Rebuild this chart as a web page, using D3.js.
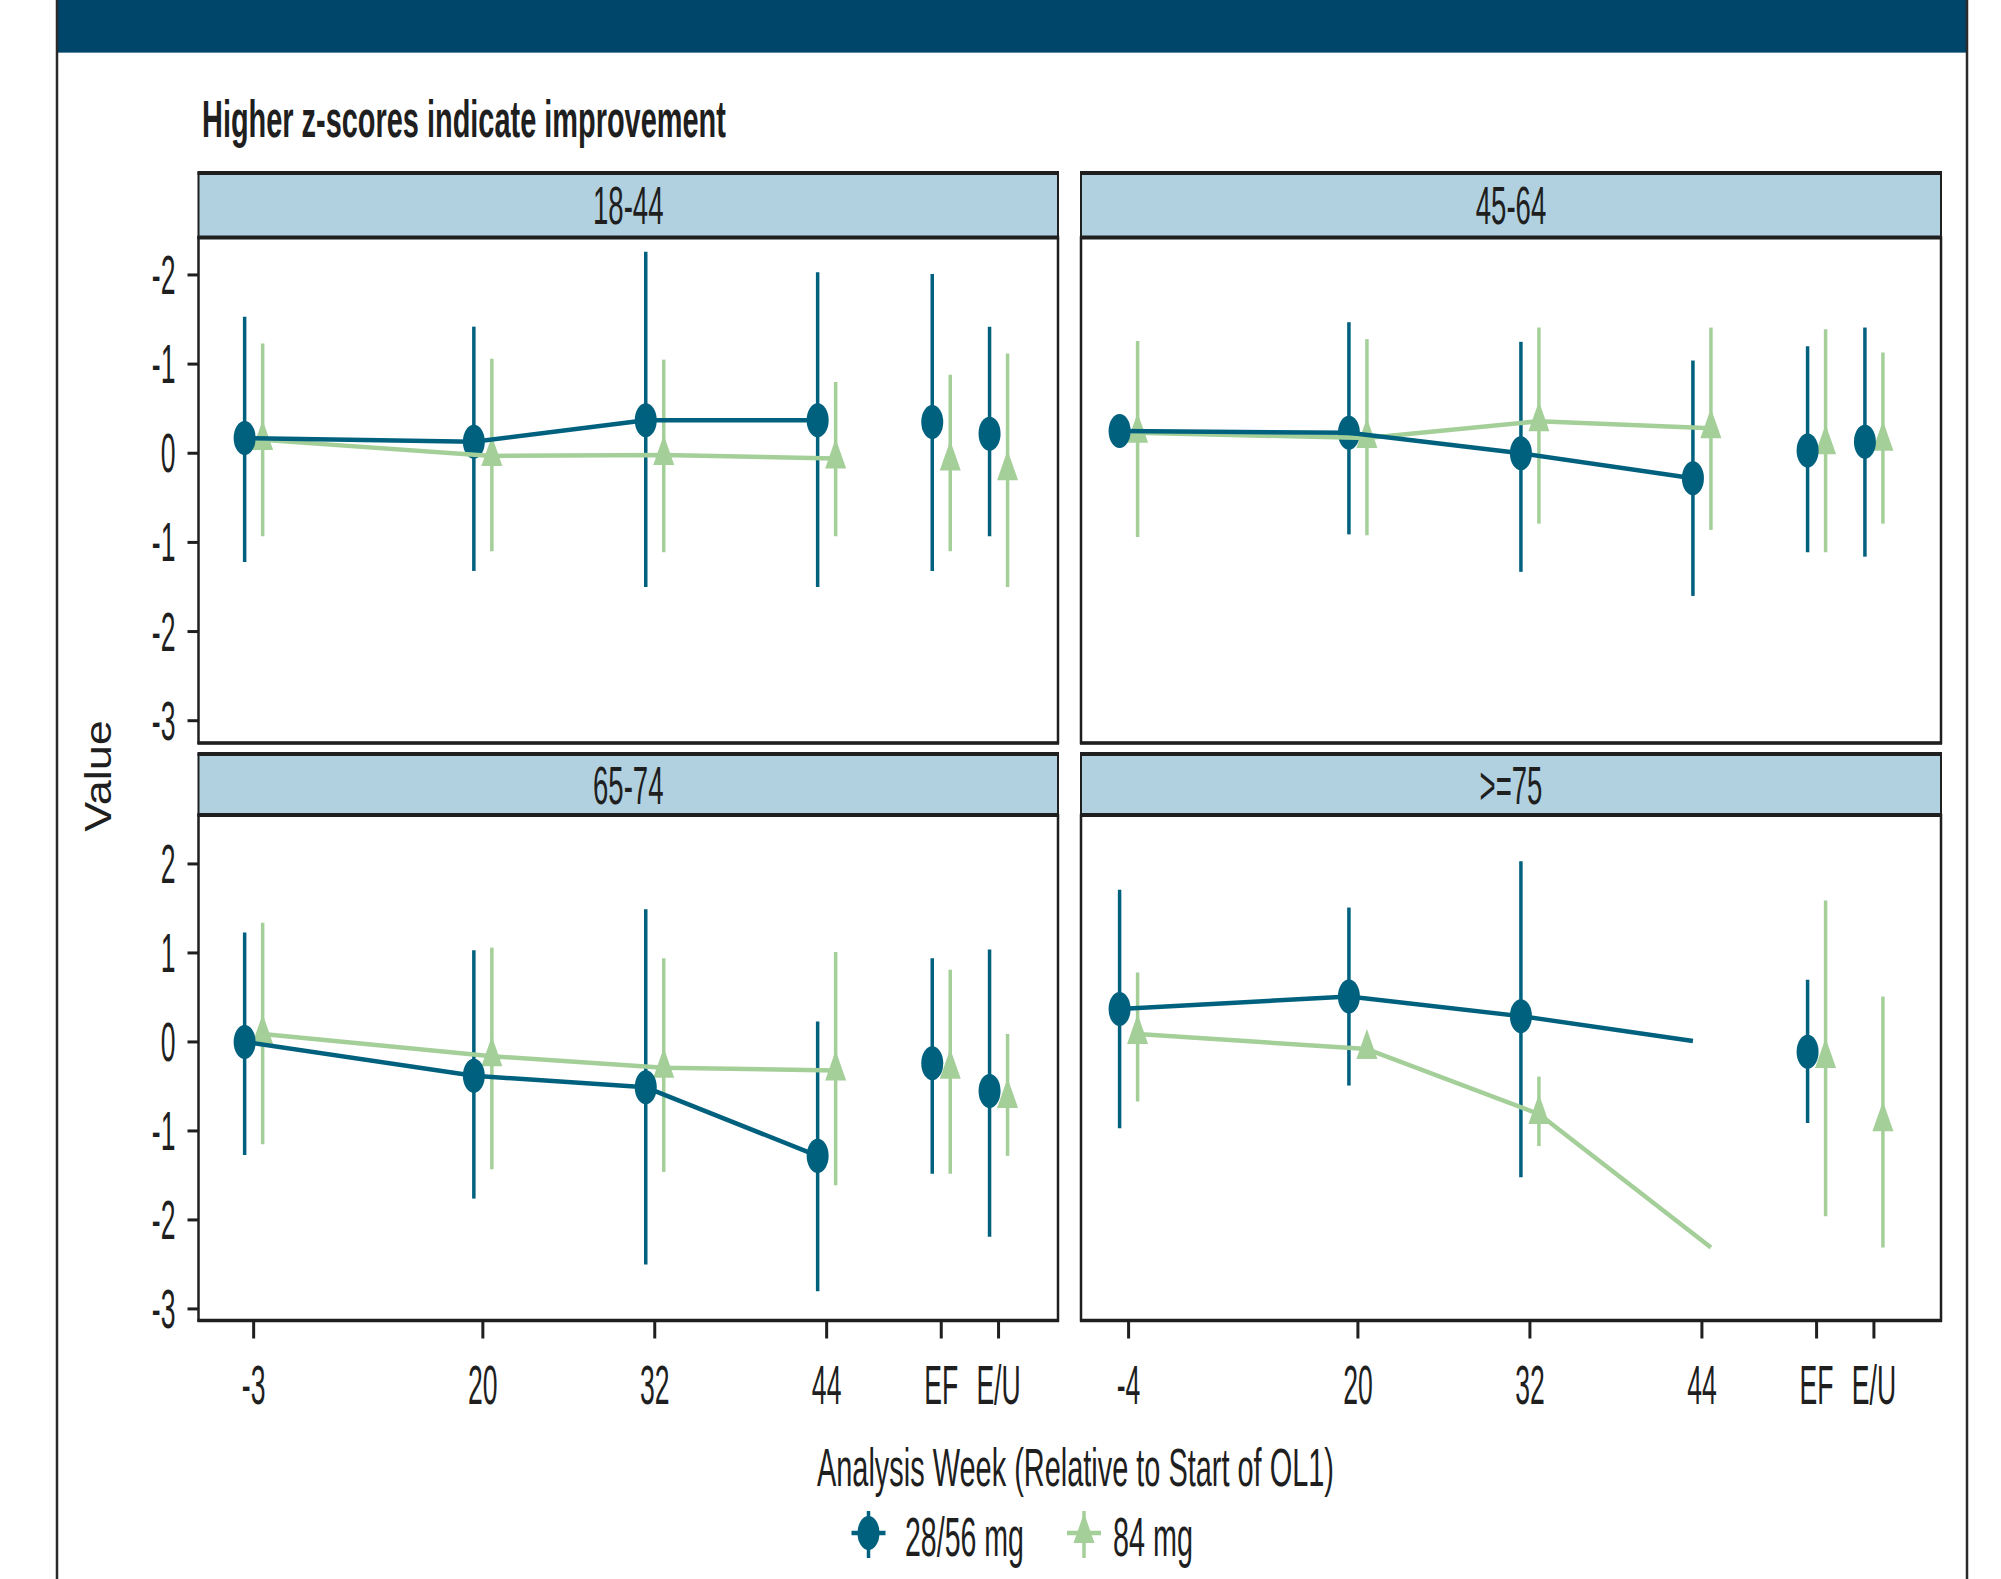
<!DOCTYPE html>
<html>
<head>
<meta charset="utf-8">
<script src="https://cdn.jsdelivr.net/npm/d3@7"></script>
<style>
  body { margin: 0; background: #fff; }
  svg { display: block; font-family: 'Liberation Sans', Arial, sans-serif; }
</style>
</head>
<body>
<svg id="chart" width="2001" height="1579"></svg>
<script>
// ---- data ----
const panelNames = ['18-44', '45-64', '65-74', '>=75'];
const weekLabelsLeft = ['-3', '20', '32', '44', 'EF', 'E/U'];
const weekLabelsRight = ['-4', '20', '32', '44', 'EF', 'E/U'];
const seriesNames = ['28/56 mg', '84 mg'];
const yTicks = [2, 1, 0, -1, -2, -3];
const yTickLabelsTop = ['-2', '-1', '0', '-1', '-2', '-3'];
const yTickLabelsBottom = ['2', '1', '0', '-1', '-2', '-3'];
// slot of each category along the week axis
const weekSlots = [4, 20, 32, 44, 52, 56];
// only the first four visits are joined by a line
const linedVisits = 4;

// 28/56 mg : estimate, lower and upper limit, one row per panel
const mid2856 = [
  [0.17, 0.13, 0.37, 0.37, 0.35, 0.22],
  [0.25, 0.23, 0.00, -0.28, 0.03, 0.13],
  [0.00, -0.38, -0.51, -1.28, -0.24, -0.55],
  [0.37, 0.51, 0.29, 0.01, -0.11, null]
];
const lo2856 = [
  [-1.22, -1.32, -1.50, -1.50, -1.32, -0.93],
  [null, -0.91, -1.33, -1.60, -1.11, -1.16],
  [-1.27, -1.76, -2.50, -2.80, -1.48, -2.19],
  [-0.97, -0.49, -1.52, null, -0.91, null]
];
const hi2856 = [
  [1.53, 1.42, 2.26, 2.03, 2.01, 1.42],
  [null, 1.47, 1.25, 1.04, 1.20, 1.41],
  [1.23, 1.03, 1.49, 0.23, 0.94, 1.04],
  [1.71, 1.51, 2.03, null, 0.70, null]
];
// 84 mg
const mid84 = [
  [0.15, -0.03, -0.02, -0.06, -0.08, -0.19],
  [0.23, 0.17, 0.36, 0.28, 0.10, 0.14],
  [0.09, -0.16, -0.29, -0.32, -0.30, -0.63],
  [0.09, -0.08, -0.81, -2.31, -0.18, -0.89]
];
const lo84 = [
  [-0.93, -1.10, -1.11, -0.93, -1.10, -1.50],
  [-0.94, -0.92, -0.79, -0.86, -1.11, -0.79],
  [-1.15, -1.43, -1.46, -1.61, -1.48, -1.28],
  [-0.67, null, -1.17, null, -1.96, -2.31]
];
const hi84 = [
  [1.23, 1.06, 1.05, 0.80, 0.88, 1.12],
  [1.26, 1.28, 1.41, 1.41, 1.39, 1.13],
  [1.34, 1.06, 0.94, 1.01, 0.81, 0.09],
  [0.78, null, -0.39, null, 1.59, 0.51]
];
// visits where the line reaches a value but no marker is drawn
const lineOnly2856 = [[], [], [], [3]];
const lineOnly84 = [[], [], [], [3]];

// ---- layout ----
const blue = '#00617f';
const green = '#a4cf99';
const stripFill = '#b1d1e0';
const headerFill = '#00456a';
const ink = '#1f1f1f';

const colX = [[198.5, 1058], [1081, 1941]];
const rowStrip = [[173, 237.5], [754, 815]];
const rowPlot = [[237.5, 743], [815, 1320.5]];
const xDomains = [[0.15, 60.15], [0.68, 60.68]];
const yDomains = [[-3.25, 2.42], [-3.13, 2.55]];
const dodge = 9;

const svg = d3.select('#chart');

const series = [
  { name: seriesNames[0], mid: mid2856, lo: lo2856, hi: hi2856, hidden: lineOnly2856, color: blue, shape: 'circle', dx: -dodge },
  { name: seriesNames[1], mid: mid84, lo: lo84, hi: hi84, hidden: lineOnly84, color: green, shape: 'triangle', dx: dodge }
];

//треугольник с центром в центроиде
const triPath = (w, h) => `M0,${-2 * h / 3}L${w / 2},${h / 3}L${-w / 2},${h / 3}Z`;

const drawMarker = (g, shape, color) => {
  if (shape === 'circle') {
    g.append('ellipse').attr('rx', 11).attr('ry', 17).attr('fill', color);
  } else {
    g.append('path').attr('d', triPath(21, 30)).attr('fill', color);
  }
};

// narrow text: squeeze horizontally so it spans `width` px
const squeezeTo = (sel, x, y, width) => {
  const len = sel.node().getComputedTextLength();
  sel.attr('transform', `translate(${x},${y}) scale(${width / len},1)`);
};

// page frame and header band
svg.append('rect')
  .attr('x', 56).attr('y', 0).attr('width', 1912).attr('height', 53)
  .attr('fill', headerFill);
svg.append('line')
  .attr('x1', 56).attr('x2', 1968).attr('y1', 52.5).attr('y2', 52.5)
  .attr('stroke', '#5d86a0').attr('stroke-width', 1);
[57, 1967].forEach(x => {
  svg.append('line')
    .attr('x1', x).attr('x2', x).attr('y1', 0).attr('y2', 1579)
    .attr('stroke', '#2b2b2b').attr('stroke-width', 2.5);
});

const title = svg.append('text')
  .attr('font-size', 52).attr('font-weight', 'bold').attr('fill', ink)
  .text('Higher z-scores indicate improvement');
squeezeTo(title, 202, 137, 524);

panelNames.forEach((name, i) => {
  const r = Math.floor(i / 2);
  const c = i % 2;
  const [x0, x1] = colX[c];
  const [py0, py1] = rowPlot[r];
  const [sy0, sy1] = rowStrip[r];

  const x = d3.scaleLinear().domain(xDomains[c]).range([x0, x1]);
  const y = d3.scaleLinear().domain(yDomains[r]).range([py1, py0]);

  const g = svg.append('g').attr('class', 'panel');

  // strip
  g.append('rect')
    .attr('x', x0).attr('y', sy0).attr('width', x1 - x0).attr('height', sy1 - sy0)
    .attr('fill', stripFill).attr('stroke', ink).attr('stroke-width', 2);
  g.append('line')
    .attr('x1', x0 - 1).attr('x2', x1 + 1).attr('y1', sy0).attr('y2', sy0)
    .attr('stroke', ink).attr('stroke-width', 4);
  g.append('text')
    .attr('transform', `translate(${(x0 + x1) / 2},${(sy0 + sy1) / 2 + 19}) scale(0.52,1)`)
    .attr('text-anchor', 'middle').attr('font-size', 53).attr('fill', ink)
    .text(name);

  // plot box
  g.append('rect')
    .attr('x', x0).attr('y', py0).attr('width', x1 - x0).attr('height', py1 - py0)
    .attr('fill', '#fff').attr('stroke', ink).attr('stroke-width', 2.5);
  g.append('line')
    .attr('x1', x0 - 1).attr('x2', x1 + 1).attr('y1', py0).attr('y2', py0)
    .attr('stroke', ink).attr('stroke-width', 4);
  g.append('line')
    .attr('x1', x0 - 1).attr('x2', x1 + 1).attr('y1', py1).attr('y2', py1)
    .attr('stroke', ink).attr('stroke-width', 3.5);

  // y axis on the left column
  if (c === 0) {
    const labels = r === 0 ? yTickLabelsTop : yTickLabelsBottom;
    const yAxis = g.append('g').selectAll('g.ytick').data(yTicks).enter()
      .append('g').classed('ytick', true)
      .attr('transform', d => `translate(${x0},${y(d)})`);
    yAxis.append('line')
      .attr('x1', -11).attr('x2', 0)
      .attr('stroke', ink).attr('stroke-width', 3);
    yAxis.append('text')
      .attr('transform', 'translate(-23,19) scale(0.475,1)')
      .attr('text-anchor', 'end').attr('font-size', 56).attr('fill', ink)
      .text((d, k) => labels[k]);
  }

  // x axis on the bottom row
  if (r === 1) {
    const labels = c === 0 ? weekLabelsLeft : weekLabelsRight;
    const xAxis = g.append('g').selectAll('g.xtick').data(weekSlots).enter()
      .append('g').classed('xtick', true)
      .attr('transform', d => `translate(${x(d)},${py1})`);
    xAxis.append('line')
      .attr('y1', 0).attr('y2', 18)
      .attr('stroke', ink).attr('stroke-width', 3);
    xAxis.append('text')
      .attr('transform', 'translate(0,83) scale(0.475,1)')
      .attr('text-anchor', 'middle').attr('font-size', 56).attr('fill', ink)
      .text((d, k) => labels[k]);
  }

  const rows = s => weekSlots.map((slot, k) => ({
    k, slot,
    mid: s.mid[i][k], lo: s.lo[i][k], hi: s.hi[i][k],
    marker: !s.hidden[i].includes(k)
  }));

  // error bars and markers
  series.slice().reverse().forEach(s => {
    const data = rows(s).filter(d => d.mid !== null);
    const pr = g.append('g').selectAll('g.pointrange').data(data).enter()
      .append('g').classed('pointrange', true)
      .attr('transform', d => `translate(${x(d.slot) + s.dx},0)`);
    pr.filter(d => d.lo !== null && d.hi !== null)
      .append('line')
      .attr('y1', d => y(d.lo)).attr('y2', d => y(d.hi))
      .attr('stroke', s.color).attr('stroke-width', 3.5);
    pr.filter(d => d.marker).each(function (d) {
      const m = d3.select(this).append('g').attr('transform', `translate(0,${y(d.mid)})`);
      drawMarker(m, s.shape, s.color);
    });
  });

  // connecting lines through the weekly visits
  const line = d3.line().x(d => d.x).y(d => d.y);
  series.slice().reverse().forEach(s => {
    const pts = rows(s).slice(0, linedVisits)
      .filter(d => d.mid !== null)
      .map(d => ({ x: x(d.slot) + s.dx, y: y(d.mid) }));
    g.append('path')
      .attr('d', line(pts))
      .attr('fill', 'none').attr('stroke', s.color)
      .attr('stroke-width', 4.5).attr('stroke-linejoin', 'round');
  });
});

// axis titles
const xTitle = svg.append('text')
  .attr('font-size', 53).attr('fill', ink)
  .text('Analysis Week (Relative to Start of OL1)');
squeezeTo(xTitle, 817, 1486, 517);
svg.append('text')
  .attr('transform', 'translate(111,776) rotate(-90) scale(1,0.8)')
  .attr('text-anchor', 'middle').attr('font-size', 45).attr('fill', ink)
  .text('Value');

// legend
const legendKeys = [
  { cx: 868.5, labelX: 905, width: 119 },
  { cx: 1084, labelX: 1113, width: 80 }
];
const legend = svg.append('g').selectAll('g.legend-item').data(series).enter()
  .append('g').classed('legend-item', true)
  .attr('transform', (d, k) => `translate(${legendKeys[k].cx},1533)`);
legend.append('line')
  .attr('x1', -17).attr('x2', 17)
  .attr('stroke', d => d.color).attr('stroke-width', 4.5);
legend.append('line')
  .attr('y1', -22).attr('y2', 25)
  .attr('stroke', d => d.color).attr('stroke-width', 3.5);
legend.each(function (d, k) {
  const item = d3.select(this);
  drawMarker(item, d.shape, d.color);
  const label = item.append('text')
    .attr('font-size', 55).attr('fill', ink)
    .text(d.name);
  squeezeTo(label, legendKeys[k].labelX - legendKeys[k].cx, 23, legendKeys[k].width);
});
</script>
</body>
</html>
